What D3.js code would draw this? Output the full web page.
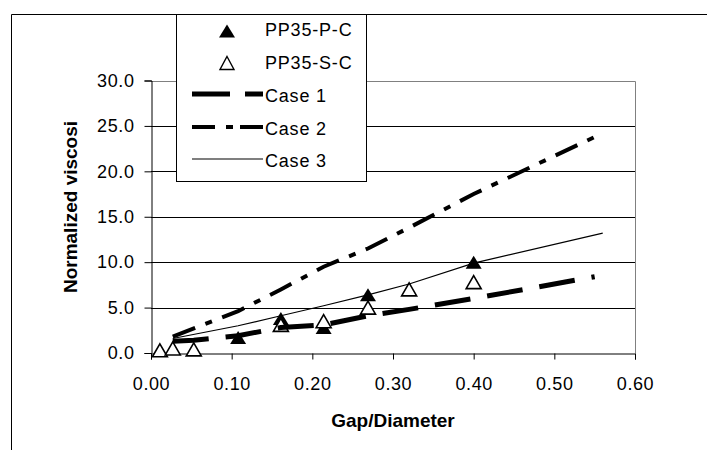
<!DOCTYPE html>
<html>
<head>
<meta charset="utf-8">
<script src="https://cdn.jsdelivr.net/npm/d3@7"></script>
<style>
  body { margin: 0; background: #fff; }
  svg { display: block; font-family: "Liberation Sans", Arial, sans-serif; }
</style>
</head>
<body>
<div id="chart"></div>
<script>
// data
const xTicks = [0, 0.1, 0.2, 0.3, 0.4, 0.5, 0.6];
const yTicks = [0, 5, 10, 15, 20, 25, 30];
const ppPC = [[0.108, 1.7], [0.161, 3.8], [0.214, 2.8], [0.269, 6.4], [0.40, 10.0]];
const ppSC = [[0.011, 0.3], [0.027, 0.5], [0.053, 0.4], [0.161, 3.1], [0.214, 3.5], [0.269, 5.0], [0.32, 7.0], [0.40, 7.8]];
const case1 = [[0.027, 1.3], [0.053, 1.4], [0.108, 1.9], [0.161, 2.8], [0.214, 3.1], [0.269, 4.1], [0.32, 4.8], [0.40, 6.0], [0.55, 8.4]];
const case2 = [[0.027, 1.8], [0.108, 4.6], [0.161, 7.0], [0.214, 9.5], [0.269, 11.5], [0.32, 13.8], [0.40, 17.5], [0.56, 24.2]];
const case3 = [[0.027, 1.6], [0.108, 3.0], [0.161, 4.1], [0.214, 5.2], [0.269, 6.4], [0.32, 7.6], [0.40, 9.9], [0.56, 13.2]];

const W = 707, H = 450;
const svg = d3.select('#chart').append('svg').attr('width', W).attr('height', H);

const x = d3.scaleLinear().domain([0, 0.6]).range([151, 635]);
const y = d3.scaleLinear().domain([0, 30]).range([353, 80.5]);

// outer chart border (runs off the page right and bottom)
svg.append('path')
  .attr('d', `M11.5,${H + 2}V14.5H${W + 2}`)
  .attr('fill', 'none').attr('stroke', '#000');

// gridlines
svg.append('g').selectAll('line')
  .data(yTicks.filter(d => d > 0 && d < 30))
  .join('line')
  .attr('x1', x(0)).attr('x2', x(0.6))
  .attr('y1', d => Math.round(y(d)) + 0.5).attr('y2', d => Math.round(y(d)) + 0.5)
  .attr('stroke', '#000');

// plot area border top/right (grey)
svg.append('path')
  .attr('d', `M${x(0)},${Math.round(y(30)) + 0.5}H${Math.round(x(0.6)) + 0.5}V${y(0)}`)
  .attr('fill', 'none').attr('stroke', '#808080');

// y axis
const yAxis = d3.axisLeft(y).tickValues(yTicks).tickSize(7).tickPadding(10)
  .tickFormat(d3.format('.1f'));
const gy = svg.append('g').attr('transform', `translate(${Math.round(x(0)) + 0.5},0)`).call(yAxis);
gy.select('.domain').attr('stroke', '#000');
gy.selectAll('.tick line').attr('stroke', '#000');
gy.selectAll('.tick text').attr('font-size', 18).attr('fill', '#000')
  .attr('font-family', '"Liberation Sans", Arial, sans-serif').attr('letter-spacing', '0.6px');

// x axis
const xAxis = d3.axisBottom(x).tickValues(xTicks).tickSize(6).tickPadding(18)
  .tickFormat(d3.format('.2f'));
const gx = svg.append('g').attr('transform', `translate(0,${Math.round(y(0)) + 0.5})`).call(xAxis);
gx.select('.domain').attr('stroke', '#000');
gx.selectAll('.tick line').attr('stroke', '#000');
gx.selectAll('.tick text').attr('font-size', 18).attr('fill', '#000')
  .attr('font-family', '"Liberation Sans", Arial, sans-serif').attr('letter-spacing', '0.6px');

// axis titles
svg.append('text')
  .attr('x', 393).attr('y', 427)
  .attr('text-anchor', 'middle')
  .attr('font-size', 19).attr('font-weight', 'bold')
  .text('Gap/Diameter');
svg.append('text')
  .attr('transform', 'translate(77,207) rotate(-90)')
  .attr('text-anchor', 'middle')
  .attr('font-size', 19).attr('font-weight', 'bold')
  .text('Normalized viscosi');

// markers
function tri(w, h) {
  return `M0,${-h / 2}L${w / 2},${h / 2}L${-w / 2},${h / 2}Z`;
}
svg.append('g').selectAll('path')
  .data(ppPC).join('path')
  .attr('transform', d => `translate(${x(d[0])},${y(d[1])})`)
  .attr('d', tri(16, 13))
  .attr('fill', '#000');
svg.append('g').selectAll('path')
  .data(ppSC).join('path')
  .attr('transform', d => `translate(${x(d[0])},${y(d[1])})`)
  .attr('d', tri(15, 13))
  .attr('fill', '#fff').attr('stroke', '#000').attr('stroke-width', 1.6);

// model lines
const line = d3.line().x(d => x(d[0])).y(d => y(d[1]));
const styles = [
  { data: case1, width: 5, dash: '36,17', name: 'Case 1' },
  { data: case2, width: 4, dash: '24,11,7,11', name: 'Case 2' },
  { data: case3, width: 1.2, dash: null, name: 'Case 3' }
];
styles.forEach(s => {
  svg.append('path')
    .datum(s.data)
    .attr('d', line)
    .attr('fill', 'none')
    .attr('stroke', '#000')
    .attr('stroke-width', s.width)
    .attr('stroke-dasharray', s.dash);
});

// legend
const lg = svg.append('g');
lg.append('rect')
  .attr('x', 176.5).attr('y', 14.5).attr('width', 190).attr('height', 167)
  .attr('fill', '#fff').attr('stroke', '#000');
const rows = [36, 69, 102, 135, 167];
lg.append('path').attr('transform', `translate(227,${rows[0] - 5})`)
  .attr('d', tri(16, 13)).attr('fill', '#000');
lg.append('path').attr('transform', `translate(227,${rows[1] - 6})`)
  .attr('d', tri(14, 13)).attr('fill', '#fff').attr('stroke', '#000').attr('stroke-width', 1.4);
styles.forEach((s, i) => {
  const yy = rows[i + 2] - 8;
  lg.append('line')
    .attr('x1', 192).attr('x2', 263).attr('y1', yy).attr('y2', yy)
    .attr('stroke', '#000').attr('stroke-width', s.width)
    .attr('stroke-dasharray', i === 0 ? '38,15' : i === 1 ? '23,11,7,7' : null);
});
const names = ['PP35-P-C', 'PP35-S-C', 'Case 1', 'Case 2', 'Case 3'];
lg.selectAll('text.lab').data(names).join('text')
  .attr('class', 'lab')
  .attr('x', 265).attr('y', (d, i) => rows[i])
  .attr('font-size', 18).attr('letter-spacing', '0.8px')
  .text(d => d);
</script>
</body>
</html>
